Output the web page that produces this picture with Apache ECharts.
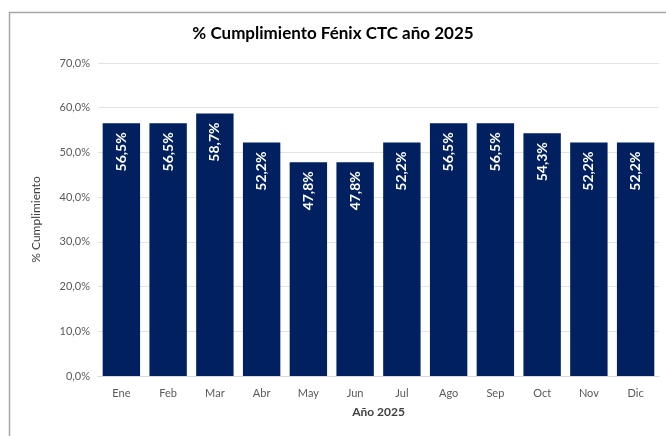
<!DOCTYPE html>
<html><head><meta charset="utf-8">
<script src="https://cdn.jsdelivr.net/npm/echarts@6/dist/echarts.min.js"></script>
<style>html,body{margin:0;padding:0;background:#fff}#c{width:666px;height:436px}</style>
</head><body><div id="c"></div>
<script>
const categories = ['Ene','Feb','Mar','Abr','May','Jun','Jul','Ago','Sep','Oct','Nov','Dic'];
const values = [56.5, 56.5, 58.7, 52.2, 47.8, 47.8, 52.2, 56.5, 56.5, 54.3, 52.2, 52.2];
const titleText = '% Cumplimiento Fénix CTC año 2025';
const yName = '% Cumplimiento';
const xName = 'Año 2025';
const fmt = v => v.toFixed(1).replace('.', ',') + '%';
const chart = echarts.init(document.getElementById('c'));
chart.setOption({
  animation: false,
  textStyle: { fontFamily: 'Lato' },
  graphic: [{ type: 'rect', left: 7, top: 10, shape: { width: 700, height: 500 }, style: { fill: 'none', stroke: '#a6a6a6', lineWidth: 1.5 }, silent: true }],
  title: { text: titleText, left: 'center', top: 20, textStyle: { fontFamily: 'Lato', fontSize: 17, fontWeight: 'bold', color: '#000' } },
  grid: { left: 98, right: 7, top: 63, bottom: 60 },
  xAxis: {
    type: 'category', data: categories,
    name: xName, nameLocation: 'middle', nameGap: 30,
    nameTextStyle: { fontSize: 12, fontWeight: 'bold', color: '#404040' },
    axisLine: { lineStyle: { color: '#d9d9d9' } }, axisTick: { show: false },
    axisLabel: { color: '#595959', fontSize: 11, margin: 12 }
  },
  yAxis: {
    type: 'value', min: 0, max: 70, interval: 10,
    name: yName, nameLocation: 'middle', nameGap: 56,
    nameTextStyle: { fontSize: 12, color: '#404040' },
    axisLabel: { color: '#595959', fontSize: 11, formatter: v => fmt(v) },
    splitLine: { lineStyle: { color: '#e3e3e3' } }
  },
  series: [{
    type: 'bar', data: values, barWidth: '80%',
    itemStyle: { color: '#002060' },
    label: { show: true, position: 'insideTop', rotate: 90, align: 'right', verticalAlign: 'middle', distance: 9,
      color: '#fff', fontWeight: 'bold', fontSize: 14, formatter: p => fmt(p.value) }
  }]
});
</script></body></html>
